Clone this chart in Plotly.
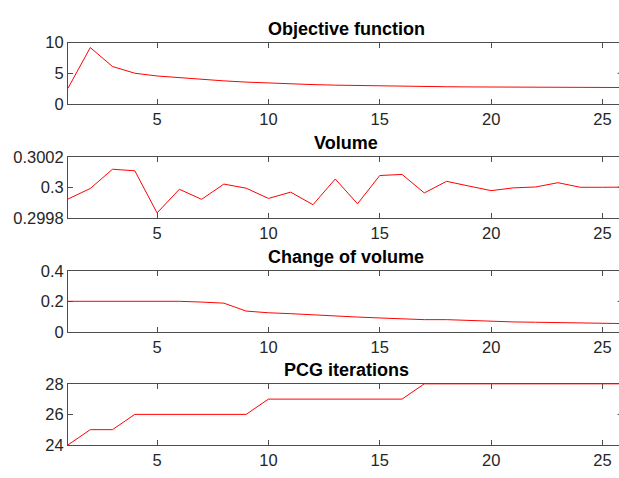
import plotly.graph_objects as go

# Iteration index shared by every panel
iterations = list(range(1, 27))

objective = [2.55, 9.2, 6.1, 5.0, 4.55, 4.25, 3.98, 3.75, 3.55, 3.38, 3.25, 3.14, 3.05,
             2.98, 2.92, 2.87, 2.83, 2.79, 2.76, 2.74, 2.72, 2.70, 2.69, 2.68, 2.67, 2.66]

volume = [0.299923, 0.299992, 0.300118, 0.300108, 0.299832, 0.299987, 0.299921, 0.300021,
          0.299994, 0.299927, 0.299968, 0.299886, 0.300054, 0.299892, 0.300077, 0.300084,
          0.299963, 0.300039, 0.300008, 0.299978, 0.299996, 0.300002, 0.300030, 0.300000,
          0.300000, 0.300001]

volume_change = [0.2, 0.2, 0.2, 0.2, 0.2, 0.2, 0.195, 0.188, 0.136, 0.125, 0.119, 0.110, 0.102,
                 0.097, 0.091, 0.084, 0.080, 0.080, 0.074, 0.067, 0.065, 0.063, 0.062, 0.059,
                 0.056, 0.054]

pcg_iterations = [24, 25, 25, 26, 26, 26, 26, 26, 26, 27, 27, 27, 27, 27, 27, 27,
                  28, 28, 28, 28, 28, 28, 28, 28, 28, 28]

titles = ["Objective function", "Volume", "Change of volume", "PCG iterations"]
series = [objective, volume, volume_change, pcg_iterations]
y_ranges = [[0, 10], [0.2998, 0.3002], [0, 0.4], [24, 28]]
y_ticks = [[0, 5, 10], [0.2998, 0.3, 0.3002], [0, 0.2, 0.4], [24, 26, 28]]
y_ticklabels = [["0", "5", "10"], ["0.2998", "0.3", "0.3002"], ["0", "0.2", "0.4"], ["24", "26", "28"]]
x_ticks = [5, 10, 15, 20, 25]

W, H = 619, 478
axis_left = 68            # px, left edge of every axes box
unit_px = 22.27           # px per iteration on the x axis
panel_tops = [35, 153.5, 272, 389.5]
panel_height = 63.5

x_max = 1 + (W - axis_left) / unit_px
x_center_px = axis_left + 25 * unit_px / 2   # centre of the full axes box (x = 1..26)
x_right_tick = 1 + (W - 1.5 - axis_left) / unit_px  # inner end of the right-hand box ticks

FONT = "Liberation Sans, Arial, Helvetica, sans-serif"
AXIS_COLOR = "#4d4d4d"
TEXT_COLOR = "#262626"

fig = go.Figure()
annotations = []
shapes = []
for i, (title, ys) in enumerate(zip(titles, series)):
    n = i + 1
    xa = "x" if n == 1 else f"x{n}"
    ya = "y" if n == 1 else f"y{n}"
    fig.add_trace(go.Scatter(x=iterations, y=ys, mode="lines",
                             line=dict(color="#ff0000", width=1),
                             xaxis=xa, yaxis=ya, showlegend=False))
    top = panel_tops[i]
    bottom = top + panel_height
    dom = [1 - bottom / H, 1 - top / H]
    xkey = "xaxis" if n == 1 else f"xaxis{n}"
    ykey = "yaxis" if n == 1 else f"yaxis{n}"
    fig.layout[xkey] = dict(
        domain=[axis_left / W, 1], range=[1, x_max], anchor=ya,
        tickvals=x_ticks, ticktext=[str(t) for t in x_ticks],
        ticks="inside", ticklen=5, tickcolor=AXIS_COLOR, tickwidth=1,
        showline=True, linecolor=AXIS_COLOR, linewidth=1, mirror="ticks",
        showgrid=False, zeroline=False,
        tickfont=dict(family=FONT, size=16.5, color=TEXT_COLOR),
    )
    fig.layout[ykey] = dict(
        domain=dom, range=y_ranges[i], anchor=xa,
        tickvals=y_ticks[i], ticktext=y_ticklabels[i],
        ticks="inside", ticklen=5, tickcolor=AXIS_COLOR, tickwidth=1,
        showline=True, linecolor=AXIS_COLOR, linewidth=1,
        showgrid=False, zeroline=False,
        tickfont=dict(family=FONT, size=16.5, color=TEXT_COLOR),
    )
    # tip of the middle tick on the right-hand side of the box
    shapes.append(dict(
        type="line", xref=xa, yref=ya,
        x0=x_right_tick, x1=x_max, y0=y_ticks[i][1], y1=y_ticks[i][1],
        line=dict(color=AXIS_COLOR, width=1),
    ))
    annotations.append(dict(
        text=f"<b>{title}</b>", xref="paper", yref="paper",
        x=x_center_px / W, y=dom[1], xanchor="center", yanchor="bottom",
        yshift=2, showarrow=False,
        font=dict(family=FONT, size=18, color="#000000"),
    ))

fig.update_layout(
    width=W, height=H,
    margin=dict(l=0, r=0, t=0, b=0),
    paper_bgcolor="white", plot_bgcolor="white",
    annotations=annotations,
    shapes=shapes,
)

fig.write_html("out.html")
